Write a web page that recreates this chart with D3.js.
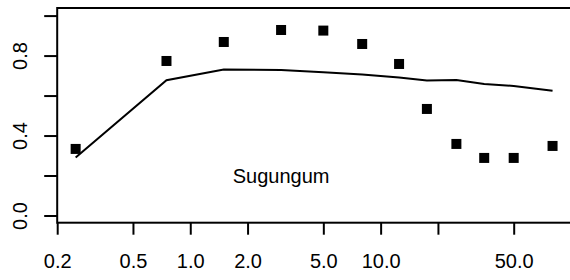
<!DOCTYPE html>
<html>
<head>
<meta charset="utf-8">
<script src="https://cdn.jsdelivr.net/npm/d3@7"></script>
<style>
  body { margin: 0; background: #fff; }
  svg { display: block; font-family: "Liberation Sans", Arial, sans-serif; }
</style>
</head>
<body>
<div id="mainDiv"></div>
<script>
// data
let pointX = [0.25, 0.75, 1.5, 3, 5, 8, 12.5, 17.5, 25, 35, 50, 80];
let pointY = [0.333, 0.773, 0.868, 0.928, 0.925, 0.858, 0.758, 0.533, 0.358, 0.288, 0.288, 0.348];
let lineY = [0.29, 0.677, 0.73, 0.728, 0.717, 0.705, 0.69, 0.675, 0.678, 0.658, 0.648, 0.624];
let xTicks = [0.2, 0.5, 1, 2, 5, 10, 20, 50];
let xTickLabels = ["0.2", "0.5", "1.0", "2.0", "5.0", "10.0", "", "50.0"];
let yTicks = [0, 0.2, 0.4, 0.6, 0.8, 1.0];
let yTickLabels = ["0.0", "", "0.4", "", "0.8", ""];
let annotation = { text: "Sugungum", x: 3, y: 0.2 };

let chartSize = {
  width: 570,
  height: 280,
  margin: { top: 8, right: -1, bottom: 57.3, left: 57.2 }
};

let x = d3.scaleLog()
  .domain([0.2, 100])
  .range([chartSize.margin.left, chartSize.width - chartSize.margin.right]);

let y = d3.scaleLinear()
  .domain([-0.036, 1.038])
  .range([chartSize.height - chartSize.margin.bottom, chartSize.margin.top]);

const svg = d3.select("#mainDiv")
  .append("svg")
  .attr("width", chartSize.width)
  .attr("height", chartSize.height);

let xAxis = g => g
  .attr("transform", `translate(0,${chartSize.height - chartSize.margin.bottom})`)
  .call(d3.axisBottom(x)
    .tickValues(xTicks)
    .tickFormat((d, i) => xTickLabels[i])
    .tickSize(12)
    .tickPadding(19)
    .tickSizeOuter(0))
  .call(g => g.select(".domain").remove())
  .call(g => g.selectAll(".tick line").attr("stroke-width", 2))
  .call(g => g.selectAll(".tick text")
    .attr("font-size", 20)
    .attr("font-family", "Liberation Sans, Arial, sans-serif")
    .attr("fill", "#000"));

let yAxis = g => g
  .attr("transform", `translate(${chartSize.margin.left},0)`)
  .call(d3.axisLeft(y)
    .tickValues(yTicks)
    .tickFormat((d, i) => yTickLabels[i])
    .tickSize(13)
    .tickSizeOuter(0))
  .call(g => g.select(".domain").remove())
  .call(g => g.selectAll(".tick line").attr("stroke-width", 2))
  .call(g => g.selectAll(".tick text")
    .attr("font-size", 20)
    .attr("font-family", "Liberation Sans, Arial, sans-serif")
    .attr("fill", "#000")
    .attr("text-anchor", "middle")
    .attr("dy", 0)
    .attr("x", 0)
    .attr("y", 0)
    .attr("transform", "translate(-30,0) rotate(-90)"));

svg.append("g").call(xAxis);
svg.append("g").call(yAxis);

// fitted line
let lineData = pointX.map((d, i) => [d, lineY[i]]);
svg.append("path")
  .datum(lineData)
  .attr("fill", "none")
  .attr("stroke", "#000")
  .attr("stroke-width", 2)
  .attr("d", d3.line().x(d => x(d[0])).y(d => y(d[1])));

// observed points
let side = 10;
svg.append("g")
  .selectAll("rect")
  .data(pointX.map((d, i) => [d, pointY[i]]))
  .join("rect")
  .attr("x", d => x(d[0]) - side / 2)
  .attr("y", d => y(d[1]) - side / 2)
  .attr("width", side)
  .attr("height", side)
  .attr("fill", "#000");

svg.append("text")
  .attr("x", x(annotation.x))
  .attr("y", y(annotation.y))
  .attr("dy", "0.35em")
  .attr("text-anchor", "middle")
  .attr("font-size", 20)
  .attr("fill", "#000")
  .text(annotation.text);

// plot frame
svg.append("rect")
  .attr("x", x.range()[0])
  .attr("y", y.range()[1])
  .attr("width", x.range()[1] - x.range()[0])
  .attr("height", y.range()[0] - y.range()[1])
  .attr("fill", "none")
  .attr("stroke", "#000")
  .attr("stroke-width", 2);
</script>
</body>
</html>
